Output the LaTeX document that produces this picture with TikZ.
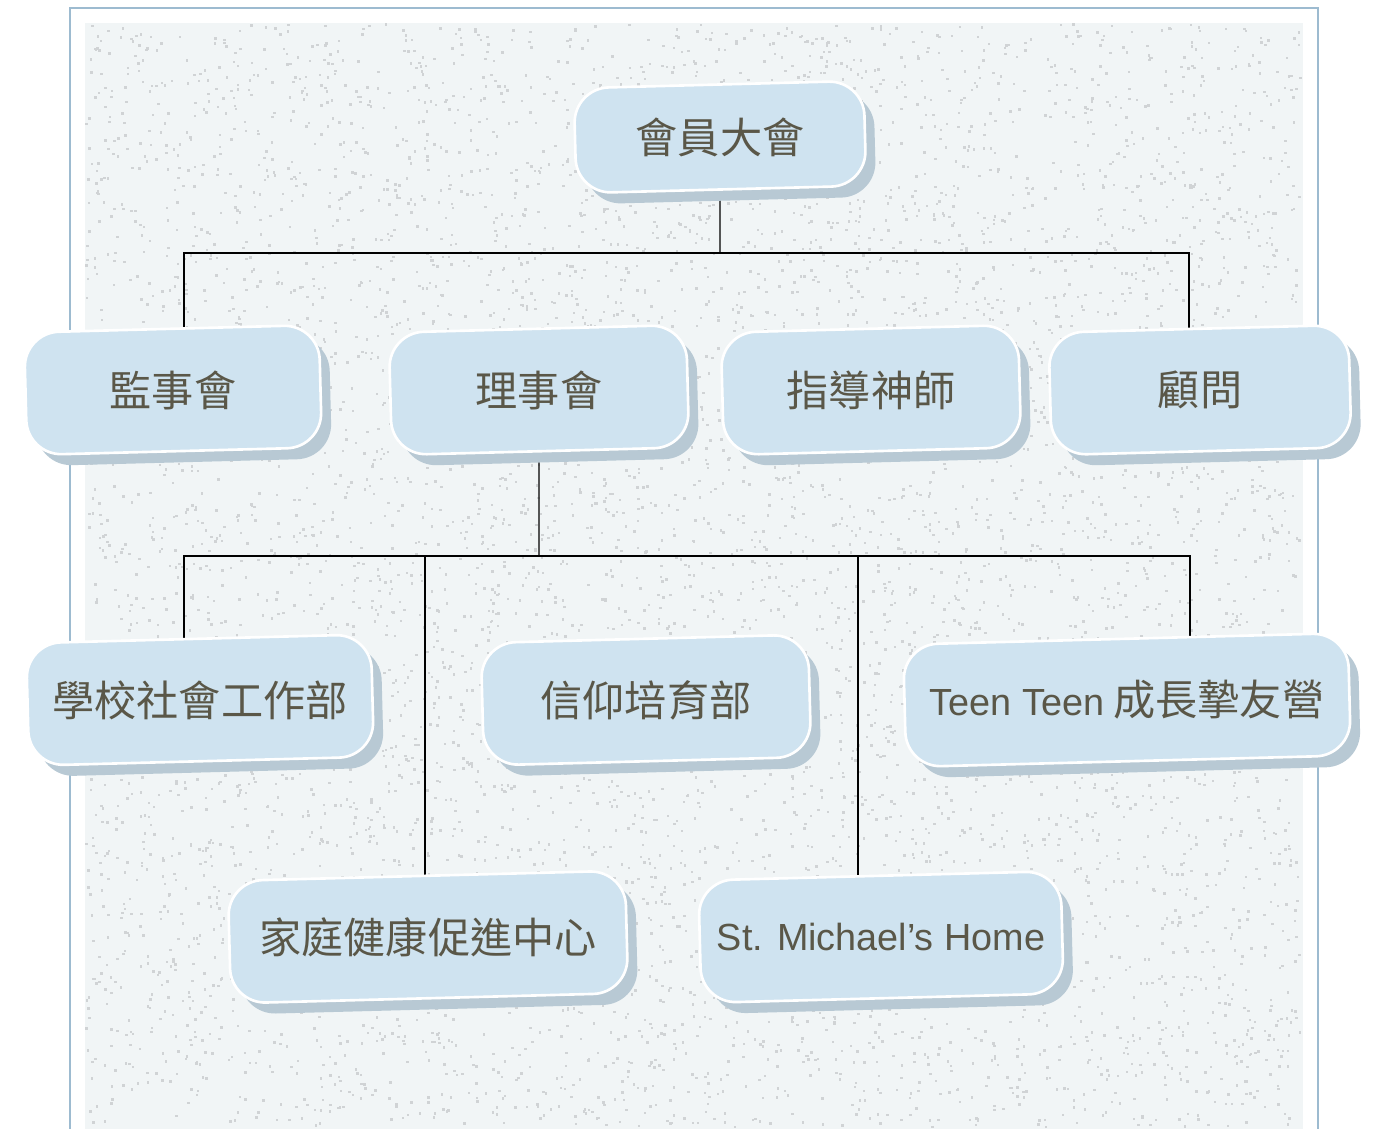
\documentclass[tikz,border=0pt]{standalone}
\usepackage{fontspec}
\setmainfont{Liberation Sans}
\newfontfamily\cjk{Noto Sans CJK TC}
\usetikzlibrary{shadows, backgrounds}

\definecolor{boxblue}{HTML}{CFE3F0}
\definecolor{shadowblue}{HTML}{B8C9D4}
\definecolor{inkgray}{HTML}{5A5748}
\definecolor{framecol}{HTML}{9DBBD0}
\definecolor{paper}{HTML}{F1F5F6}
\definecolor{speck}{HTML}{D0D3D5}

% boxes lean a little, their texts stay level
\newcommand{\unittext}[1]{\raisebox{2.5pt}{\rotatebox{-1.5}{#1}}}

\begin{document}
\begin{tikzpicture}[x=0.02cm, y=-0.02cm,
    unit/.style={rectangle, rounded corners=0.7cm, draw=white, line width=1.5pt,
        fill=boxblue, text=inkgray, rotate=1.5, minimum height=2.45cm,
        font=\cjk\fontsize{24}{28}\selectfont,
        drop shadow={shadow xshift=0.2cm, shadow yshift=-0.22cm, fill=shadowblue, opacity=1}},
    latin/.style={font=\rmfamily\fontsize{21.5}{26}\selectfont},
    link/.style={draw=black, line width=0.6pt}
]
\useasboundingbox (0,0) rectangle (1373,1129);

% paper and frame
\begin{scope}[on background layer]
\fill[white] (0,0) rectangle (1373,1129);
\fill[paper] (85,23) rectangle (1303,1129);
\pgfmathsetseed{11}
\foreach \i in {1,...,7000} {
    \fill[speck] ({85+rnd*1215},{23+rnd*1103}) rectangle +(2.5,2.5);
}
\draw[framecol, line width=1.1pt] (70,1129) -- (70,8) -- (1318,8) -- (1318,1129);
\end{scope}

% level 1
\node[unit, minimum width=5.8cm, minimum height=2.1cm] (general) at (720,137) {\unittext{會員大會}};

% level 2
\node[unit, minimum width=5.9cm] (supervise) at (173,390) {\unittext{監事會}};
\node[unit, minimum width=5.95cm] (council) at (539,390) {\unittext{理事會}};
\node[unit, minimum width=5.95cm] (chaplain) at (871,390) {\unittext{指導神師}};
\node[unit, minimum width=6cm] (advisor) at (1200,390) {\unittext{顧問}};

% level 3
\node[unit, minimum width=6.9cm] (school) at (200,700) {\unittext{學校社會工作部}};
\node[unit, minimum width=6.55cm] (faith) at (646,700) {\unittext{信仰培育部}};
\node[unit, minimum width=8.9cm] (teen) at (1127,700)
    {\unittext{{\rmfamily\fontsize{21.5}{26}\selectfont Teen Teen} 成長摯友營}};

% level 4
\node[unit, minimum width=7.95cm] (family) at (428,937) {\unittext{家庭健康促進中心}};
\node[unit, latin, minimum width=7.25cm] (stmh) at (881,937) {\unittext{St. Michael’s Home}};

% connectors
\begin{scope}[on background layer]
\coordinate (tl) at (184,253);
\coordinate (tr) at (1189,253);
\draw[link] (general) -- (general |- tl);
\draw[link] (supervise -| tl) -- (tl) -- (tr) -- (advisor -| tr);

\coordinate (bl) at (184,556);
\coordinate (br) at (1190,556);
\coordinate (bf) at (425,556);
\coordinate (bs) at (858,556);
\draw[link] (council) -- (council |- bl);
\draw[link] (school -| bl) -- (bl) -- (br) -- (teen -| br);
\draw[link] (bf) -- (family -| bf);
\draw[link] (bs) -- (stmh -| bs);
\end{scope}
\end{tikzpicture}
\end{document}
